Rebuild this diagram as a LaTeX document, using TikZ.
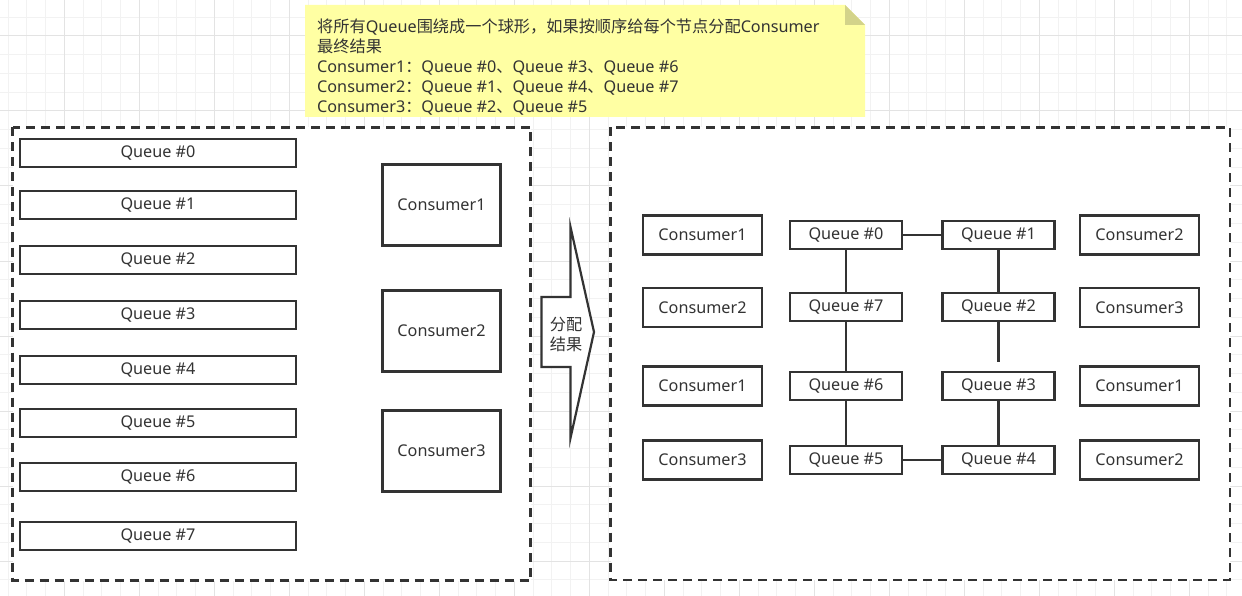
\documentclass[tikz,border=0pt]{standalone}
\usepackage{fontspec}
\setmainfont{Noto Sans}
\newfontfamily\cjk{Noto Sans CJK SC}
\definecolor{ink}{HTML}{333333}
\definecolor{gridminor}{HTML}{F2F2F2}
\definecolor{gridmajor}{HTML}{E3E3E3}
\definecolor{notefill}{HTML}{FFFFA3}
\definecolor{notefold}{HTML}{D3D38A}
\tikzset{
  container/.style={draw=ink, line width=2.5pt, dash pattern=on 9pt off 6pt, fill=white},
  qbox/.style={draw=ink, line width=2.2pt, fill=white, inner sep=0pt, text=ink, font=\fontsize{16.2}{19}\selectfont},
  lq/.style={qbox, minimum width=276pt, minimum height=28pt},
  lc/.style={qbox, minimum width=118pt, minimum height=81pt},
  rq/.style={qbox, minimum width=112pt, minimum height=28pt},
  rc/.style={qbox, minimum width=119pt, minimum height=39pt},
  link/.style={draw=ink, line width=2.2pt},
}
\begin{document}
\begin{tikzpicture}[x=1pt,y=-1pt]
\useasboundingbox (0,0) rectangle (1242,596);
\fill[white] (0,0) rectangle (1242,596);
% grid
\foreach \i in {0,...,66} {\draw[gridminor, line width=1pt] ({8.05+\i*18.75},0) -- ({8.05+\i*18.75},596);}
\foreach \i in {0,...,32} {\draw[gridminor, line width=1pt] (0,{17.25+\i*18.75}) -- (1242,{17.25+\i*18.75});}
\foreach \i in {0,...,16} {\draw[gridmajor, line width=1pt] ({64.3+\i*75},0) -- ({64.3+\i*75},596);}
\foreach \i in {0,...,7} {\draw[gridmajor, line width=1pt] (0,{36+\i*75}) -- (1242,{36+\i*75});}

% note
\fill[notefill] (305,5) -- (845,5) -- (865,25) -- (865,117) -- (305,117) -- cycle;
\fill[notefold] (845,5) -- (865,25) -- (845,25) -- cycle;
\node[anchor=west, align=left, text=ink, inner sep=0pt, font=\fontsize{16.2}{20}\selectfont] (note) at (317,67.5)
 {{\cjk 将所有}Queue{\cjk 围绕成一个球形，如果按顺序给每个节点分配}Consumer\\
  {\cjk 最终结果}\\
  Consumer1{\cjk ：}Queue \#0{\cjk 、}Queue \#3{\cjk 、}Queue \#6\\
  Consumer2{\cjk ：}Queue \#1{\cjk 、}Queue \#4{\cjk 、}Queue \#7\\
  Consumer3{\cjk ：}Queue \#2{\cjk 、}Queue \#5};

% containers
\draw[container] (12.5,127.5) rectangle (530.5,580.5);
\draw[container] (610.5,127.5) rectangle (1230,580);

% left side
\node[lq] (l0) at (158,153) {Queue \#0};
\node[lq] (l1) at (158,205) {Queue \#1};
\node[lq] (l2) at (158,260) {Queue \#2};
\node[lq] (l3) at (158,315) {Queue \#3};
\node[lq] (l4) at (158,370) {Queue \#4};
\node[lq] (l5) at (158,423) {Queue \#5};
\node[lq] (l6) at (158,477) {Queue \#6};
\node[lq] (l7) at (158,536) {Queue \#7};
\node[lc] (lc1) at (441.5,205) {Consumer1};
\node[lc] (lc2) at (441.5,331) {Consumer2};
\node[lc] (lc3) at (441.5,451) {Consumer3};

% arrow
\draw[ink, line width=2.2pt, fill=white, line join=miter] (541.5,297) -- (570.5,297) -- (570.5,227) -- (594,332) -- (570.5,438) -- (570.5,367) -- (541.5,367) -- cycle;
\node[align=center, text=ink, inner sep=0pt, font=\cjk\fontsize{16.2}{20}\selectfont] (arrowtext) at (566,334) {分配\\结果};

% right side
\node[rc] (ra1) at (702.5,235) {Consumer1};
\node[rc] (ra2) at (702.5,307.5) {Consumer2};
\node[rc] (ra3) at (702.5,386) {Consumer1};
\node[rc] (ra4) at (702.5,460) {Consumer3};
\node[rc] (rb1) at (1139.5,235) {Consumer2};
\node[rc] (rb2) at (1139.5,307.5) {Consumer3};
\node[rc] (rb3) at (1139.5,386) {Consumer1};
\node[rc] (rb4) at (1139.5,460) {Consumer2};

\node[rq] (q0) at (846,235) {Queue \#0};
\node[rq] (q7) at (846,307) {Queue \#7};
\node[rq] (q6) at (846,386) {Queue \#6};
\node[rq] (q5) at (846,460) {Queue \#5};
\node[rq] (q1) at (998.5,235) {Queue \#1};
\node[rq] (q2) at (998.5,307) {Queue \#2};
\node[rq] (q3) at (998.5,386) {Queue \#3};
\node[rq] (q4) at (998.5,460) {Queue \#4};

\coordinate (q2stub) at (998.5,361.5);
\draw[link] (q0.east) -- (q1.west);
\draw[link] (q0.south) -- (q7.north);
\draw[link] (q7.south) -- (q6.north);
\draw[link] (q6.south) -- (q5.north);
\draw[link] (q5.east) -- (q4.west);
\draw[link] (q4.north) -- (q3.south);
\draw[link] (q1.south) -- (q2.north);
\draw[link] (q2.south) -- (q2stub);
\end{tikzpicture}
\end{document}
